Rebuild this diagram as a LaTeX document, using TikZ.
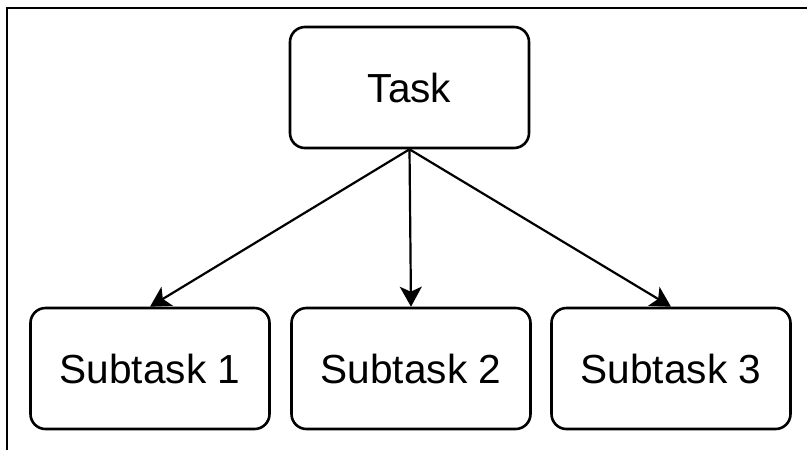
\documentclass[tikz,border=0pt]{standalone}
\usepackage{fontspec}
\setmainfont{Liberation Sans}
\usetikzlibrary{arrows.meta,positioning}

\begin{document}
\begin{tikzpicture}[
  x=0.5pt, y=-0.5pt,
  every node/.style={font=\fontsize{20.3}{24}\selectfont},
  task/.style={draw, line width=1.3pt, rounded corners=7.5pt, inner sep=0pt,
             minimum width=119.5pt, minimum height=60.5pt, fill=white},
  arr/.style={-{Stealth[length=10pt, width=11pt, inset=2.5pt]}, line width=1.1pt},
]
\useasboundingbox (0,0) rectangle (807,450);
% frame
\draw[line width=1.3pt] (7,450) -- (7,8) -- (807,8);

\node[task] (top)  at (409.5,87.5)  {Task};
\node[task] (sub1) at (150,368.5)   {Subtask 1};
\node[task] (sub2) at (411,368.5)   {Subtask 2};
\node[task] (sub3) at (671,368.5)   {Subtask 3};

\draw[arr] (top.south) -- (sub1.north);
\draw[arr] (top.south) -- (sub2.north);
\draw[arr] (top.south) -- (sub3.north);
\end{tikzpicture}
\end{document}
